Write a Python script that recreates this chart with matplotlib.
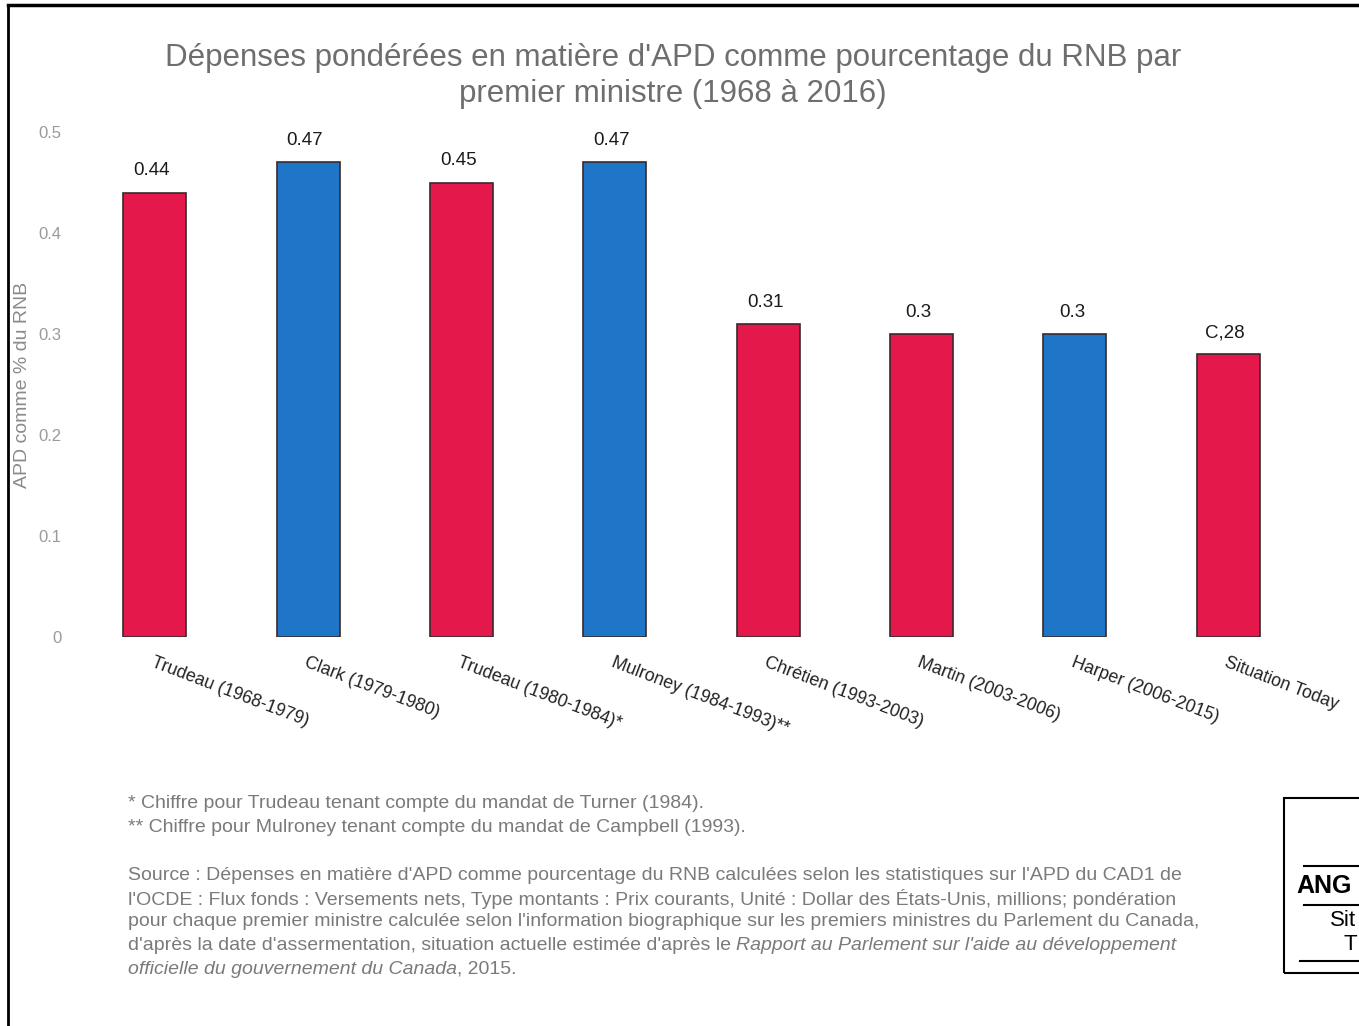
import numpy as np
import matplotlib.pyplot as plt
from matplotlib.patches import Rectangle
from matplotlib.lines import Line2D

plt.rcParams['font.family'] = ['Liberation Sans', 'DejaVu Sans']

# données
premiers = ['Trudeau (1968-1979)', 'Clark (1979-1980)', 'Trudeau (1980-1984)*',
            'Mulroney (1984-1993)**', 'Chrétien (1993-2003)', 'Martin (2003-2006)',
            'Harper (2006-2015)', 'Situation Today']
apd = [0.44, 0.47, 0.45, 0.47, 0.31, 0.30, 0.30, 0.28]
etiquettes = ['0.44', '0.47', '0.45', '0.47', '0.31', '0.3', '0.3', 'C,28']
partis = ['lib', 'cons', 'lib', 'cons', 'lib', 'lib', 'cons', 'lib']
yticks = [0, 0.1, 0.2, 0.3, 0.4, 0.5]
yticklabels = ['0', '0.1', '0.2', '0.3', '0.4', '0.5']

couleurs = {'lib': '#e4184a', 'cons': '#1f76c9'}

W, H = 1359, 1026
fig = plt.figure(figsize=(W / 100, H / 100), dpi=100)
ax = fig.add_axes([78 / W, 1 - 637 / H, (1305 - 78) / W, (637 - 132) / H])

x = np.arange(len(premiers))
ax.bar(x, apd, width=0.41, color=[couleurs[p] for p in partis],
       edgecolor='#3a2a2a', linewidth=1.2)
for xi, v, lab in zip(x, apd, etiquettes):
    ax.text(xi - 0.02, v + 0.013, lab, ha='center', va='bottom',
            fontsize=13.5, color='#1a1a1a')

ax.set_xlim(-0.5, len(premiers) - 0.5)
ax.set_ylim(0, 0.5)
ax.set_yticks(yticks)
ax.set_yticklabels(yticklabels, color='#9a9a9a', fontsize=12)
ax.set_xticks(x)
ax.set_xticklabels(premiers, rotation=-21, ha='left', rotation_mode='anchor',
                   fontsize=12.8, color='#222222')
ax.tick_params(axis='both', length=0)
ax.tick_params(axis='y', pad=12)
ax.tick_params(axis='x', pad=12)
for s in ax.spines.values():
    s.set_visible(False)

ax.set_ylabel('APD comme % du RNB', color='#8a8a8a', fontsize=14)
ax.yaxis.set_label_coords(-47 / (1305 - 78), 0.5)

fig.text(673 / W, 1 - 76 / H,
         "Dépenses pondérées en matière d'APD comme pourcentage du RNB par\npremier ministre (1968 à 2016)",
         ha='center', va='center', fontsize=22.5, color='#6e6e6e', linespacing=1.25)

# notes
gris = '#7a7a7a'
fig.text(128 / W, 1 - 803 / H, "* Chiffre pour Trudeau tenant compte du mandat de Turner (1984).",
         fontsize=14, color=gris, va='center')
fig.text(128 / W, 1 - 828 / H, "** Chiffre pour Mulroney tenant compte du mandat de Campbell (1993).",
         fontsize=14, color=gris, va='center')

lignes = [
    "Source : Dépenses en matière d'APD comme pourcentage du RNB calculées selon les statistiques sur l'APD du CAD1 de",
    "l'OCDE : Flux fonds : Versements nets, Type montants : Prix courants, Unité : Dollar des États-Unis, millions; pondération",
    "pour chaque premier ministre calculée selon l'information biographique sur les premiers ministres du Parlement du Canada,",
]
for i, l in enumerate(lignes):
    fig.text(128 / W, 1 - (876 + 23 * i) / H, l, fontsize=14, color=gris, va='center')

# lignes avec une partie en italique
t4 = fig.text(128 / W, 1 - 945 / H, "d'après la date d'assermentation, situation actuelle estimée d'après le ",
              fontsize=14, color=gris, va='center')
t5 = fig.text(128 / W, 1 - 969 / H, "officielle du gouvernement du Canada", fontsize=14, color=gris,
              style='italic', va='center')
fig.canvas.draw()
e4 = t4.get_window_extent()
e5 = t5.get_window_extent()
fig.text(e4.x1 / W, e4.y0 / H, "Rapport au Parlement sur l'aide au développement",
         fontsize=14, color=gris, style='italic', va='bottom')
fig.text(e5.x1 / W, e5.y0 / H, ", 2015.", fontsize=14, color=gris, va='bottom')

# cadre de la page
fig.add_artist(Line2D([8 / W, 1], [1 - 5 / H, 1 - 5 / H], color='black', lw=2.5,
                      transform=fig.transFigure))
fig.add_artist(Line2D([8 / W, 8 / W], [0, 1 - 5 / H], color='black', lw=2,
                      transform=fig.transFigure))

# fragment de tableau en bas à droite (coupé par le bord)
fig.add_artist(Rectangle((1284 / W, 1 - 973 / H), 200 / W, 175 / H, fill=False,
                         edgecolor='black', lw=1.5, transform=fig.transFigure))
for yy, x0 in [(866, 1304), (905, 1304), (961, 1300)]:
    fig.add_artist(Line2D([x0 / W, 1], [1 - yy / H, 1 - yy / H], color='black', lw=1.5,
                          transform=fig.transFigure))
fig.text(1296 / W, 1 - 886 / H, "ANG", fontsize=18, weight='bold', va='center')
fig.text(1330 / W, 1 - 920 / H, "Sit", fontsize=16, va='center')
fig.text(1343 / W, 1 - 945 / H, "T", fontsize=16, va='center')

fig.savefig('out.png', dpi=100)
